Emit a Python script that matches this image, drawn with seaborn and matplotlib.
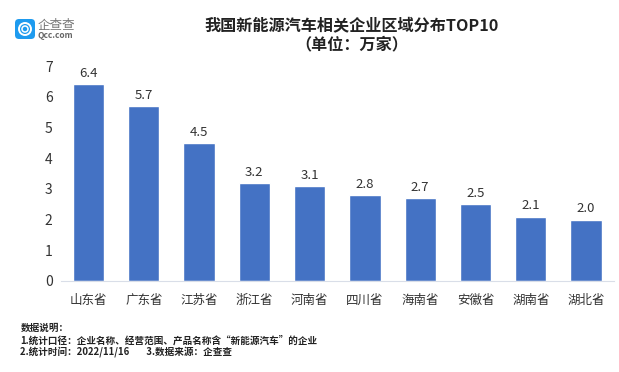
import matplotlib
matplotlib.use("Agg")
import matplotlib.pyplot as plt
from matplotlib.patches import FancyBboxPatch, Circle
import seaborn as sns
import pandas as pd

provinces = ["山东省", "广东省", "江苏省", "浙江省", "河南省", "四川省", "海南省", "安徽省", "湖南省", "湖北省"]
values = [6.4, 5.7, 4.5, 3.2, 3.1, 2.8, 2.7, 2.5, 2.1, 2.0]
labels = ["6.4", "5.7", "4.5", "3.2", "3.1", "2.8", "2.7", "2.5", "2.1", "2.0"]
yticks = [0, 1, 2, 3, 4, 5, 6, 7]
title = "我国新能源汽车相关企业区域分布TOP10\n（单位：万家）"
notes = ["数据说明：", "1.统计口径：企业名称、经营范围、产品名称含“新能源汽车”的企业", "2.统计时间：2022/11/16        3.数据来源：企查查"]

sns.set_theme(style="white")
plt.rcParams['font.family'] = ['Noto Sans CJK SC', 'DejaVu Sans']

W, H = 619, 372
fig = plt.figure(figsize=(W / 100, H / 100), dpi=100)
ax = fig.add_axes([60.9 / W, 1 - 281 / H, 552.8 / W, 215 / H])
df = pd.DataFrame({"province": provinces, "value": values})
sns.barplot(data=df, x="province", y="value", color="#4472C4", saturation=1, width=0.566, ax=ax)
ax.set_xlim(-0.5, 9.5)
ax.set_ylim(0, 7)
ax.set_yticks(yticks)
ax.set_xlabel("")
ax.set_ylabel("")
for s in ["top", "right", "left"]:
    ax.spines[s].set_visible(False)
ax.spines["bottom"].set_color("#D9DEE8")
ax.spines["bottom"].set_linewidth(0.8)
ax.tick_params(axis="x", length=0, labelsize=9, labelcolor="#333333", pad=9)
ax.tick_params(axis="y", length=0, labelsize=10, labelcolor="#333333", pad=6)
for i, (v, lab) in enumerate(zip(values, labels)):
    ax.annotate(lab, (i, v), xytext=(0, 3), textcoords="offset points", ha="center", va="bottom",
                fontsize=9.5, color="#333333", fontweight=500)

fig.text(352 / W, 1 - 35 / H, title, ha="center", va="center", fontsize=11.6, fontweight="bold",
         color="#222222", linespacing=1.2)

for y, t in zip([328, 340.5, 352], notes):
    fig.text(20.5 / W, 1 - y / H, t, ha="left", va="center", fontsize=6.9, fontweight="bold", color="#222222")

# logo
logo = fig.add_axes([0, 0, 1, 1], facecolor="none")
logo.set_xlim(0, W)
logo.set_ylim(H, 0)
logo.axis("off")
logo.add_patch(FancyBboxPatch((17, 21), 16, 16, boxstyle="round,pad=2,rounding_size=4", fc="#1E9BEF", ec="none"))
logo.add_patch(Circle((25, 29), 6, fc="none", ec="white", lw=1.4))
logo.add_patch(Circle((25, 29), 3, fc="none", ec="white", lw=1.1))
logo.text(38, 25, "企查查", fontsize=9, color="#777777", va="center", ha="left")
logo.text(38, 36, "Qcc.com", fontsize=6, color="#666666", va="center", ha="left", fontweight="bold")

fig.savefig("out.png", dpi=100)
